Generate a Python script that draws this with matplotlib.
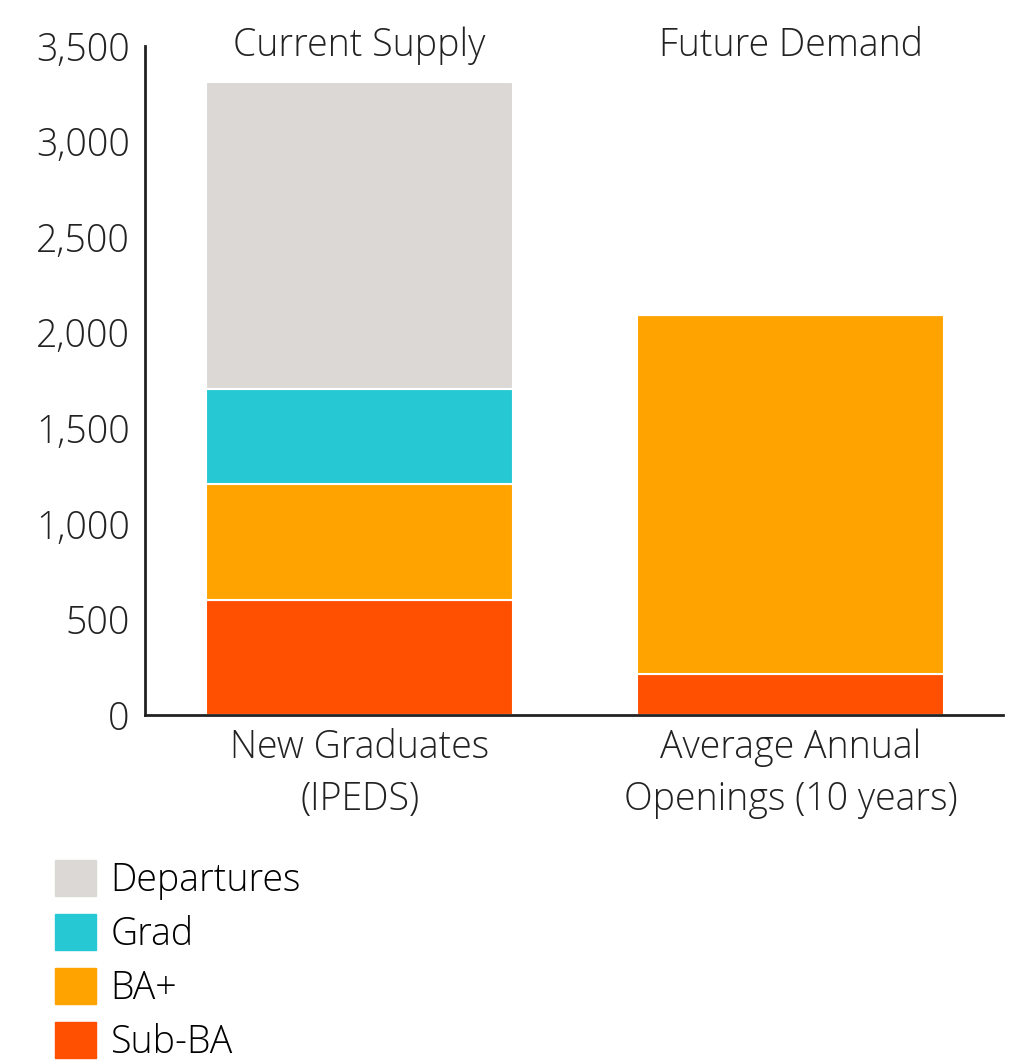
import matplotlib
matplotlib.use('Agg')
import matplotlib.pyplot as plt
from matplotlib.patches import Patch

plt.rcParams['font.family'] = ['Open Sans', 'DejaVu Sans']
plt.rcParams['font.weight'] = 'light'

# Data
categories = ['New Graduates\n(IPEDS)', 'Average Annual\nOpenings (10 years)']
group_titles = ['Current Supply', 'Future Demand']
sub_ba = [600, 215]
ba_plus = [610, 1880]
grad = [495, 0]
departures = [1605, 0]
series_names = ['Sub-BA', 'BA+', 'Grad', 'Departures']
series_colors = ['#FF4F00', '#FFA300', '#26C9D3', '#DBD8D5']
yticks = [0, 500, 1000, 1500, 2000, 2500, 3000, 3500]

fig = plt.figure(figsize=(10.26, 10.61), dpi=100)
ax = fig.add_axes([145 / 1026, 346 / 1061, 858 / 1026, 669 / 1061])

x = [0, 1]
bottom = [0, 0]
for vals, name, col in zip([sub_ba, ba_plus, grad, departures], series_names, series_colors):
    ax.bar(x, vals, 0.712, bottom=bottom, color=col, edgecolor='white', linewidth=1.5, label=name)
    bottom = [b + v for b, v in zip(bottom, vals)]

fs = 27
ax.set_xlim(-0.498, 1.493)
ax.set_ylim(0, 3500)
ax.set_yticks(yticks)
ax.set_yticklabels([f'{v:,}' for v in yticks], fontsize=fs, color='#222222')
ax.tick_params(axis='y', length=0, pad=11)
ax.set_xticks(x)
ax.set_xticklabels(categories, fontsize=fs, color='#222222', linespacing=1.45)
ax.tick_params(axis='x', length=0, pad=10)
for s in ['top', 'right']:
    ax.spines[s].set_visible(False)
for s in ['left', 'bottom']:
    ax.spines[s].set_linewidth(2)
    ax.spines[s].set_color('#222222')

for xi, t in zip(x, group_titles):
    ax.text(xi, 3500, t, ha='center', va='center', fontsize=fs, color='#222222')

handles = [Patch(color=c) for c in series_colors[::-1]]
fig.legend(handles, series_names[::-1], loc='upper left', bbox_to_anchor=(40 / 1026, 1 - 845 / 1061),
           frameon=False, fontsize=fs, handlelength=1.1, handleheight=1.1,
           handletextpad=0.38, labelspacing=0.38, borderaxespad=0)

fig.savefig('out.png', dpi=100)
